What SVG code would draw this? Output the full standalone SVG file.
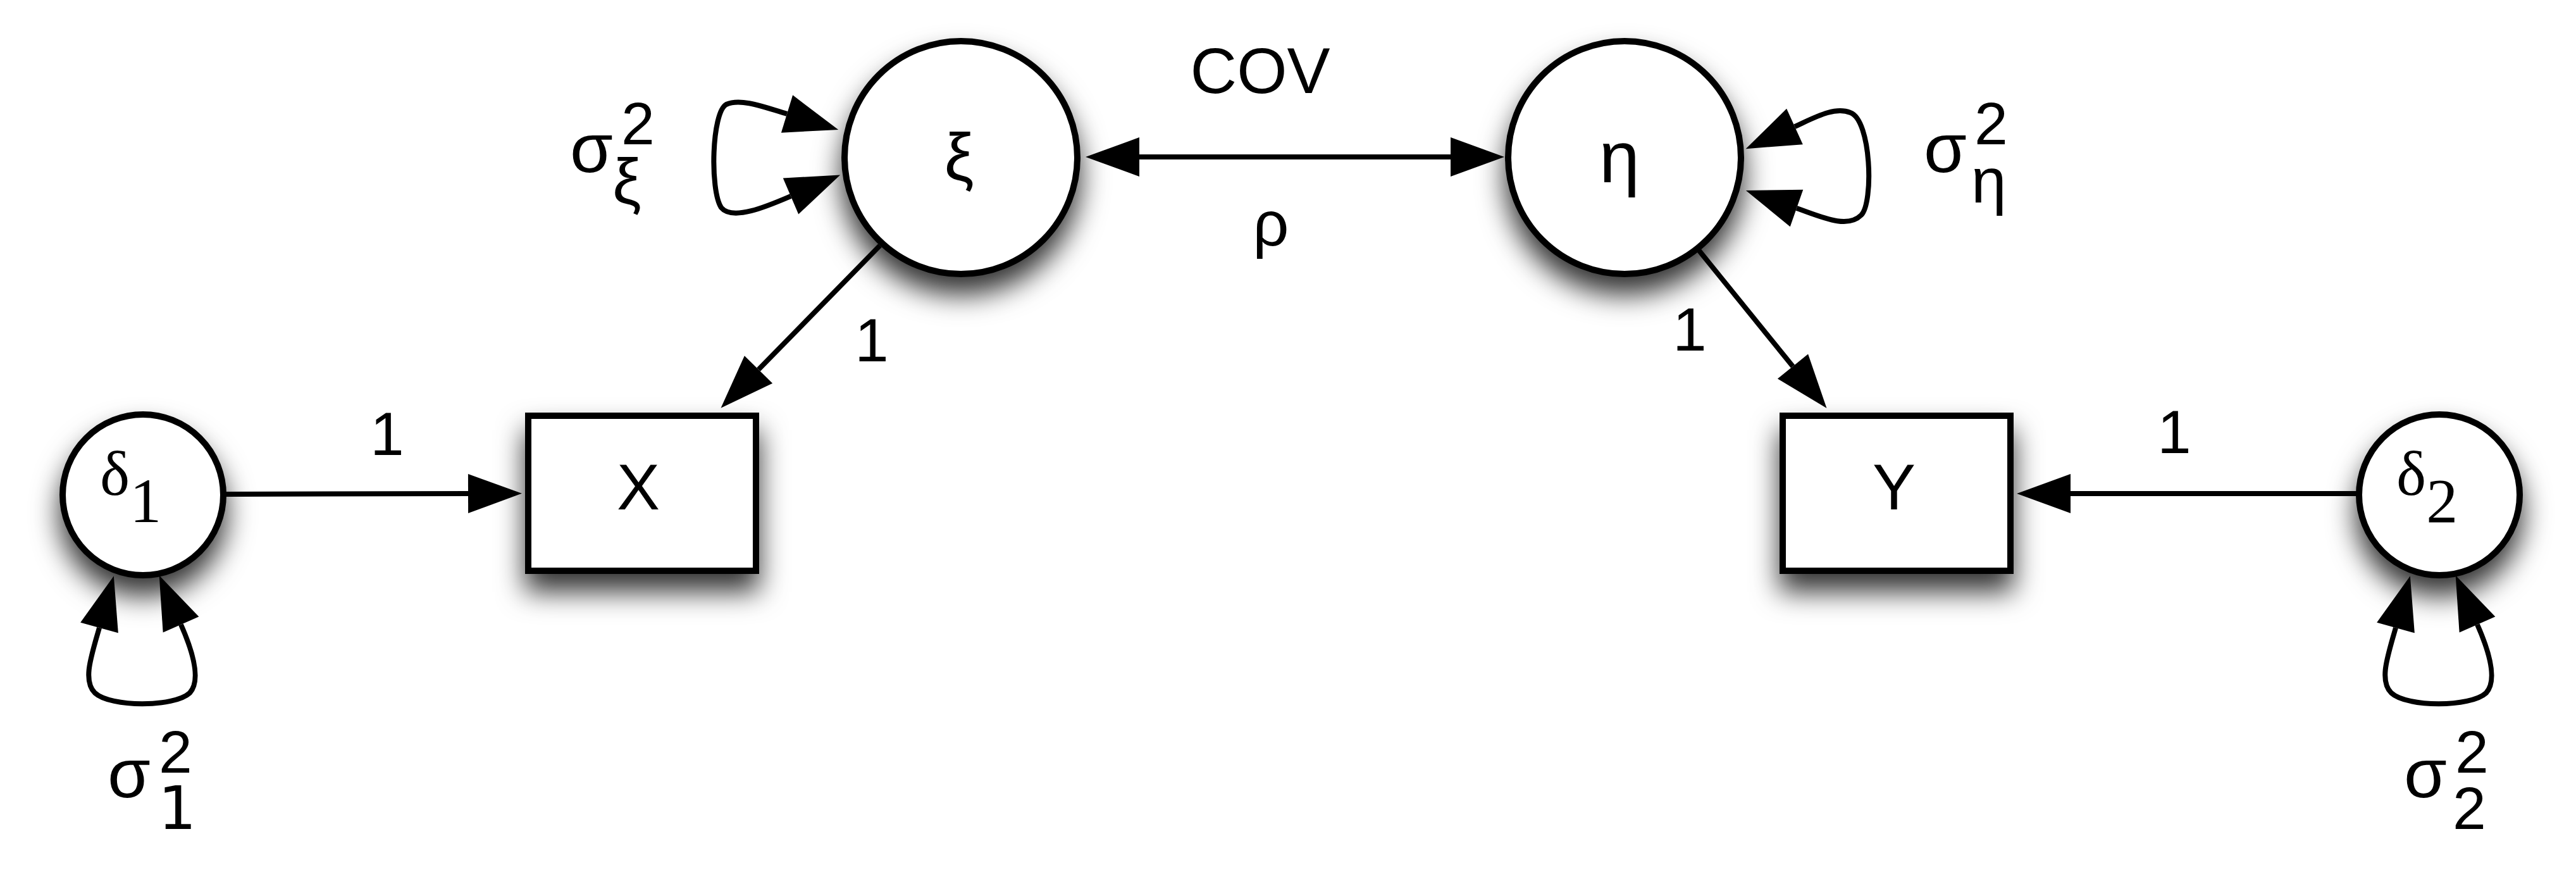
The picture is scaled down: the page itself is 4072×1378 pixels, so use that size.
<svg xmlns="http://www.w3.org/2000/svg" width="4072" height="1378" viewBox="0 0 4072 1378">
<style>
.node{fill:#fff;stroke:#000;stroke-width:10}
.edge{fill:none;stroke:#000;stroke-width:8}
.sans{font-family:"Liberation Sans",Arial,sans-serif;fill:#000}
.serif{font-family:"Liberation Serif","Times New Roman",serif;fill:#000}
</style>
<defs>
<filter id="shadow" x="-50%" y="-50%" width="200%" height="200%">
<feDropShadow dx="0" dy="28" stdDeviation="22" flood-color="#000" flood-opacity="0.8"/>
</filter>
<marker id="arrow" markerUnits="userSpaceOnUse" markerWidth="86" markerHeight="64" refX="0" refY="31" orient="auto-start-reverse" viewBox="0 0 86 62" overflow="visible">
<path d="M0,0 L85,31 L0,62 Z" fill="#000"/>
</marker>
</defs>
<rect width="4072" height="1378" fill="#fff"/>

<g id="connectors">
<path class="edge" d="M357,781 L740,780" marker-end="url(#arrow)"/>
<path class="edge" d="M3725,780 L3273,780" marker-end="url(#arrow)"/>
<path class="edge" d="M1801,248 L2293,248" marker-start="url(#arrow)" marker-end="url(#arrow)"/>
<path class="edge" d="M1391,388 L1199,584" marker-end="url(#arrow)"/>
<path class="edge" d="M2685,395 L2834,579" marker-end="url(#arrow)"/>
<path class="edge" d="M157,992 C145,1035 130,1075 150,1095 C175,1118 275,1118 300,1095 C318,1075 305,1030 286,987" marker-start="url(#arrow)" marker-end="url(#arrow)"/>
<path class="edge" d="M3787,992 C3775,1035 3760,1075 3780,1095 C3805,1118 3905,1118 3930,1095 C3948,1075 3935,1030 3916,987" marker-start="url(#arrow)" marker-end="url(#arrow)"/>
<path class="edge" d="M1244,180 C1205,168 1170,155 1148,165 C1125,178 1122,300 1140,328 C1158,350 1215,325 1250,310" marker-start="url(#arrow)" marker-end="url(#arrow)"/>
<path class="edge" d="M2837,200 C2870,185 2900,168 2925,178 C2958,190 2962,320 2942,340 C2920,362 2880,343 2840,329" marker-start="url(#arrow)" marker-end="url(#arrow)"/>
</g>

<g id="labels">
<text class="sans" x="612" y="719" font-size="96" text-anchor="middle">1</text>
<text class="sans" x="3437" y="716" font-size="96" text-anchor="middle">1</text>
<text class="sans" x="1378" y="571" font-size="96" text-anchor="middle">1</text>
<text class="sans" x="2671" y="554" font-size="96" text-anchor="middle">1</text>
<text class="sans" x="1992" y="147" font-size="102" text-anchor="middle">COV</text>
<text class="sans" x="2009" y="388" font-size="100" text-anchor="middle">ρ</text>
<text id="sigma-xi" class="sans" x="901" y="272" font-size="110">σ<tspan x="982" y="228" font-size="95">2</tspan><tspan x="968" y="322" font-size="102">ξ</tspan></text>
<text id="sigma-eta" class="sans" x="3041" y="272" font-size="110">σ<tspan x="3121" y="228" font-size="95">2</tspan><tspan x="3116" y="320" font-size="100">η</tspan></text>
<text id="sigma-1" class="sans" x="170" y="1260" font-size="110">σ<tspan x="251" y="1221" font-size="95">2</tspan><tspan x="250" y="1310" font-size="95" font-family="DejaVu Sans, sans-serif">1</tspan></text>
<text id="sigma-2" class="sans" x="3800" y="1260" font-size="110">σ<tspan x="3881" y="1221" font-size="95">2</tspan><tspan x="3877" y="1310" font-size="95">2</tspan></text>
</g>

<g id="node-delta1">
<circle class="node" cx="226" cy="782" r="127" filter="url(#shadow)"/>
<text class="serif" x="158" y="782" font-size="100">δ<tspan dy="43">1</tspan></text>
</g>
<g id="node-X">
<rect class="node" x="835" y="657" width="360" height="245" filter="url(#shadow)"/>
<text class="sans" x="1009" y="805" font-size="102" text-anchor="middle">X</text>
</g>
<g id="node-xi">
<circle class="node" cx="1519" cy="249" r="184" filter="url(#shadow)"/>
<text class="sans" x="1516" y="285" font-size="105" text-anchor="middle">ξ</text>
</g>
<g id="node-eta">
<circle class="node" cx="2568" cy="249" r="184" filter="url(#shadow)"/>
<text class="sans" x="2560" y="288" font-size="115" text-anchor="middle">η</text>
</g>
<g id="node-Y">
<rect class="node" x="2818" y="657" width="360" height="245" filter="url(#shadow)"/>
<text class="sans" x="2994" y="805" font-size="102" text-anchor="middle">Y</text>
</g>
<g id="node-delta2">
<circle class="node" cx="3856" cy="782" r="127" filter="url(#shadow)"/>
<text class="serif" x="3788" y="782" font-size="100">δ<tspan dy="43">2</tspan></text>
</g>
</svg>
